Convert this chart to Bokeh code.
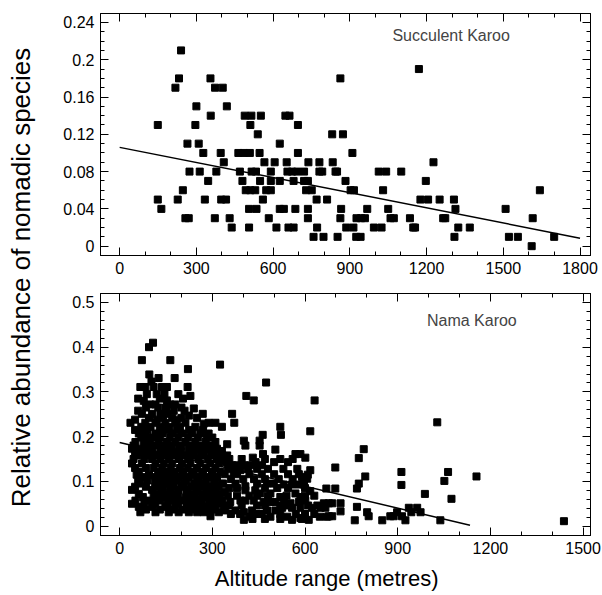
import numpy as np
from bokeh.plotting import figure
from bokeh.layouts import row, column
from bokeh.models import (LinearAxis, Range1d, CustomJSTickFormatter, SingleIntervalTicker,
                          Label, CustomLabelingPolicy)
from bokeh.embed import file_html
from bokeh.resources import INLINE
from bokeh.core.properties import value

FONT = "Liberation Sans"

# ---------------- Succulent Karoo (top panel) ----------------
suc_levels = [0.21, 0.19, 0.18, 0.17, 0.15, 0.14, 0.13, 0.12, 0.11, 0.10,
              0.09, 0.08, 0.07, 0.06, 0.05, 0.04, 0.03, 0.02, 0.01, 0.00]
suc_x_at_level = [
    [240],
    [1170],
    [232, 355, 863],
    [218, 373, 403],
    [300, 419],
    [356, 489, 515, 552, 648, 664],
    [149, 296, 511, 697],
    [540, 831, 873],
    [265, 309, 626],
    [327, 395, 464, 485, 509, 547, 697, 910],
    [407, 566, 606, 653, 738, 781, 833, 1227],
    [273, 313, 378, 470, 516, 533, 591, 656, 674, 694, 721, 781, 792, 844, 850, 1013, 1042, 1101],
    [346, 480, 549, 591, 626, 680, 721, 736, 883, 1197],
    [247, 493, 511, 530, 573, 591, 729, 751, 903, 916, 1030, 1643],
    [149, 227, 333, 397, 416, 560, 770, 811, 1176, 1206, 1251, 1307],
    [163, 506, 535, 626, 642, 687, 736, 866, 968, 1050, 1313, 1509],
    [257, 270, 372, 430, 583, 736, 863, 926, 944, 959, 1059, 1072, 1135, 1265, 1273, 1615],
    [438, 506, 613, 660, 680, 772, 886, 914, 994, 1024, 1148, 1155, 1324, 1369],
    [758, 797, 852, 925, 942, 1309, 1522, 1557, 1699],
    [1611],
]
suc_fit_x = [0, 1800]
suc_fit_y = [0.106, 0.0086]

# ---------------- Nama Karoo (bottom panel) ----------------
nama_levels = [0.410, 0.400, 0.371, 0.361, 0.351, 0.339, 0.331, 0.323, 0.321, 0.311,
               0.295, 0.291, 0.285, 0.281, 0.280, 0.272, 0.265, 0.263, 0.258, 0.251,
               0.247, 0.242, 0.238, 0.232, 0.231, 0.229, 0.222, 0.215, 0.212, 0.207,
               0.204, 0.198, 0.191, 0.188, 0.183, 0.180, 0.173, 0.172, 0.171, 0.168,
               0.165, 0.161, 0.158, 0.153, 0.152, 0.150, 0.147, 0.143, 0.140, 0.136,
               0.131, 0.130, 0.128, 0.125, 0.121, 0.116, 0.115, 0.111, 0.110, 0.106,
               0.105, 0.102, 0.101, 0.095, 0.093, 0.092, 0.089, 0.088, 0.085, 0.084,
               0.081, 0.080, 0.078, 0.076, 0.073, 0.072, 0.068, 0.065, 0.061, 0.057,
               0.054, 0.051, 0.050, 0.046, 0.043, 0.041, 0.037, 0.035, 0.033, 0.031,
               0.027, 0.022, 0.021, 0.018, 0.016, 0.014, 0.013, 0.011]
nama_x_at_level = [
    [108], [95], [72, 164], [325], [221], [96], [126, 178], [103], [474],
    [67, 83, 110, 137, 153, 220],
    [88, 120, 145, 190],
    [229, 410],
    [60, 130, 205],
    [153, 434, 631], [78], [99, 116, 164, 180],
    [85, 125, 150, 200],
    [240],
    [60, 175, 210],
    [72, 105, 132, 153, 269, 364], [224],
    [95, 140, 170, 200, 250],
    [50, 120, 185],
    [1028],
    [35, 83, 116, 148, 180, 213, 288, 310, 371], [272],
    [70, 100, 130, 160, 195, 245, 331, 520],
    [50, 90, 150, 185, 225, 270],
    [617],
    [62, 83, 116, 137, 170, 202, 234, 261, 288],
    [463, 522],
    [70, 92, 110, 130, 162, 190, 222, 253, 282, 300],
    [402, 453],
    [51, 78, 99, 126, 153, 180, 213, 245, 278, 310],
    [348],
    [45, 88, 115, 140, 168, 200, 230, 262, 295, 407, 453],
    [40, 67, 105, 132, 159, 191, 224, 251, 283, 315],
    [790], [504], [331],
    [50, 78, 98, 140, 170, 200, 235, 262, 295, 322],
    [464, 569, 585],
    [56, 89, 121, 148, 180, 213, 240, 272, 305, 332, 348],
    [431, 601], [774],
    [45, 80, 105, 132, 160, 192, 222, 255, 285, 315, 355, 395, 470, 520, 560],
    [331],
    [345, 440, 500, 545],
    [40, 72, 116, 143, 170, 202, 229, 261, 294, 321],
    [364, 380, 402, 423, 461],
    [698],
    [50, 85, 110, 138, 165, 195, 220, 250, 280, 310],
    [350, 415, 445, 480, 530, 575],
    [391, 617],
    [62, 126, 153, 180, 207, 234, 267, 299, 326, 369, 912, 1063],
    [340, 380, 420, 460, 500, 545, 580],
    [55, 95, 125, 150, 175, 205, 240, 270, 300, 609],
    [795, 1155],
    [78, 116, 137, 164, 191, 224, 256, 288, 315, 590],
    [607],
    [360, 400, 435, 470, 515, 560],
    [60, 90, 115, 140, 160, 185, 215, 250, 280, 310, 596],
    [1051],
    [67, 126, 148, 175, 207, 240, 272, 305, 332, 335, 375, 445, 477, 499, 774],
    [531, 558, 580, 596],
    [912], [407],
    [50, 85, 115, 140, 170, 200, 230, 260, 290, 320],
    [355, 380, 470, 510, 545, 600],
    [669, 698, 768],
    [40, 105, 137, 164, 191, 218, 251, 283, 310],
    [407, 439], [617], [340], [455, 488, 569],
    [62, 121, 153, 180, 234, 267, 294, 326, 988],
    [350, 380, 420, 445, 480, 540, 600, 630],
    [75, 110, 140, 160, 190, 215, 245, 275, 305, 520, 585],
    [1074],
    [51, 94, 132, 170, 202, 224, 256, 288, 315, 331, 391, 407, 434, 601],
    [358, 466, 488, 504, 531, 580],
    [553, 661, 677, 688, 715],
    [40, 80, 115, 155, 190, 235, 265, 300, 330],
    [355, 395, 445, 470, 520, 545, 610, 640],
    [62, 105, 148, 180, 218, 251, 278, 310, 337, 768],
    [526, 558, 585, 623, 650, 666, 936, 963],
    [85, 130, 170, 205, 235, 265, 300],
    [342, 375, 428, 477, 504],
    [715],
    [67, 116, 159, 191, 224, 251, 272, 294, 321, 402, 801, 898, 944, 974],
    [360, 390, 440, 460, 520, 570, 600, 630],
    [294, 677, 688, 806, 876, 887, 914],
    [423, 488, 542, 648, 671],
    [585],
    [430, 470, 520, 590],
    [402, 558, 612],
    [761, 850, 925, 1038],
    [1438],
]
nama_fit_x = [0, 1134]
nama_fit_y = [0.187, 0.002]


def flatten(levels, xs_at_level):
    xs, ys = [], []
    for lv, xs_l in zip(levels, xs_at_level):
        for xv in xs_l:
            xs.append(xv)
            ys.append(lv)
    return xs, ys


fmt = CustomJSTickFormatter(code="return String(Math.round(tick*100)/100);")
no_labels = CustomLabelingPolicy(code="""
try { for (const i of [...indices]) { indices.unset(i) } } catch (e) {}
return indices
""")


def style_axis(ax, labels=True):
    ax.axis_line_color = "black"
    ax.axis_line_width = 1
    ax.major_tick_line_color = "black"
    ax.minor_tick_line_color = "black"
    ax.major_tick_in = 8
    ax.major_tick_out = 0
    ax.minor_tick_in = 4
    ax.minor_tick_out = 0
    if labels:
        ax.major_label_text_font = FONT
        ax.major_label_text_font_size = "16px"
        ax.major_label_text_color = "black"
        ax.major_label_standoff = 6
    else:
        ax.major_label_policy = no_labels
        ax.major_label_text_font_size = "1px"
        ax.major_label_standoff = 0


def panel(xr, yr, xint, yint, yminor, height, border_bottom):
    p = figure(width=557, height=height,
               x_range=Range1d(*xr), y_range=Range1d(*yr),
               output_backend="svg", toolbar_location=None,
               min_border_left=55, min_border_right=12,
               min_border_top=13, min_border_bottom=border_bottom,
               background_fill_color="white", border_fill_color="white")
    p.grid.visible = False
    p.outline_line_color = "black"
    p.outline_line_width = 1
    p.xaxis.ticker = SingleIntervalTicker(interval=xint, num_minor_ticks=3)
    p.yaxis.ticker = SingleIntervalTicker(interval=yint, num_minor_ticks=yminor)
    p.yaxis.formatter = fmt
    style_axis(p.xaxis[0])
    style_axis(p.yaxis[0])
    right = LinearAxis(ticker=SingleIntervalTicker(interval=yint, num_minor_ticks=yminor))
    style_axis(right, labels=False)
    p.add_layout(right, "right")
    above = LinearAxis(ticker=SingleIntervalTicker(interval=xint, num_minor_ticks=3))
    style_axis(above, labels=False)
    p.add_layout(above, "above")
    return p


# top panel
sx, sy = flatten(suc_levels, suc_x_at_level)
top = panel((-75, 1841), (-0.01, 0.2496), 300, 0.04, 4, 280, 25)
top.scatter(sx, sy, marker="square", size=7, fill_color="black", line_color="black")
top.line(suc_fit_x, suc_fit_y, line_color="black", line_width=1.5)
top.add_layout(Label(x=1296, y=0.2263, text="Succulent Karoo", text_font=FONT,
                     text_font_size="16px", text_align="center", text_baseline="middle"))

# bottom panel
nx, ny = flatten(nama_levels, nama_x_at_level)
bot = panel((-62, 1524), (-0.021, 0.52), 300, 0.1, 5, 279, 24)
bot.scatter(nx, ny, marker="square", size=7, fill_color="black", line_color="black")
bot.line(nama_fit_x, nama_fit_y, line_color="black", line_width=1.5)
bot.add_layout(Label(x=1140, y=0.4605, text="Nama Karoo", text_font=FONT,
                     text_font_size="16px", text_align="center", text_baseline="middle"))

# y label strip
ylab = figure(width=45, height=595, x_range=(0, 45), y_range=(0, 595),
              x_axis_type=None, y_axis_type=None, output_backend="svg",
              toolbar_location=None, min_border=0, outline_line_color=None)
ylab.grid.visible = False
ylab.text(x=[20], y=[318], text=["Relative abundance of nomadic species"],
          angle=np.pi / 2, text_font=value(FONT), text_font_size=value("26px"),
          text_align="center", text_baseline="middle", text_color="black")

# x label strip
xlab = figure(width=557, height=36, x_range=(0, 557), y_range=(0, 36),
              x_axis_type=None, y_axis_type=None, output_backend="svg",
              toolbar_location=None, min_border=0, outline_line_color=None)
xlab.grid.visible = False
xlab.text(x=[257], y=[17], text=["Altitude range (metres)"],
          text_font=value(FONT), text_font_size=value("22px"),
          text_align="center", text_baseline="middle", text_color="black")

layout = row(ylab, column(top, bot, xlab, spacing=0), spacing=0)

open("out.html", "w").write(file_html(layout, INLINE))
